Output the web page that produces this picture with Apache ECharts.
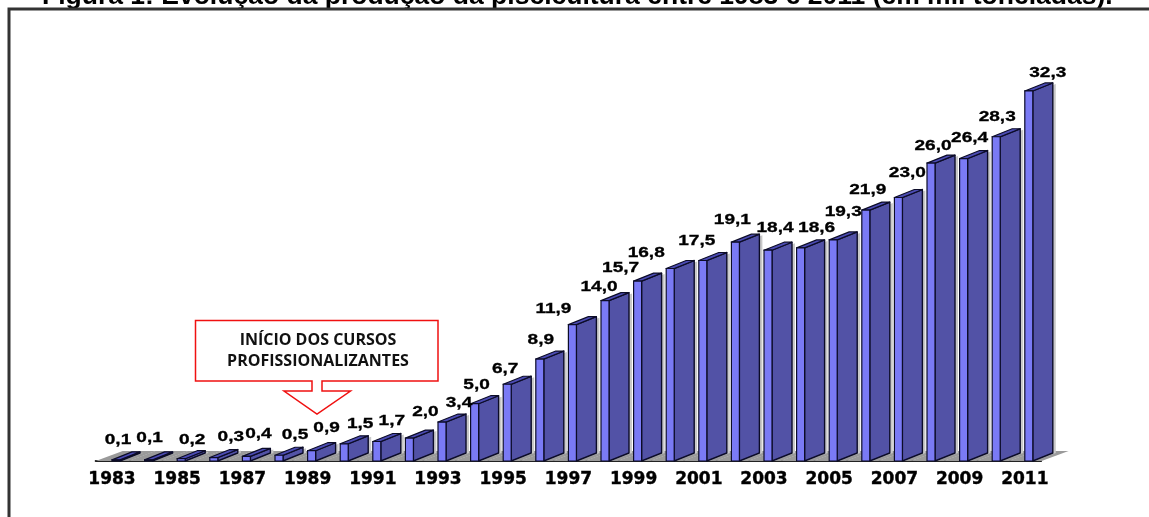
<!DOCTYPE html>
<html lang="pt">
<head>
<meta charset="utf-8">
<title>Evolução da produção da piscicultura</title>
<style>
  html, body { margin: 0; padding: 0; background: #fff; overflow: hidden; }
  #chart { width: 1149px; height: 517px; }
</style>
<script src="https://cdn.jsdelivr.net/npm/echarts@6/dist/echarts.min.js"></script>
</head>
<body>
<div id="chart"></div>
<script>
// Produção anual, em mil toneladas
const years = ['1983','1984','1985','1986','1987','1988','1989','1990','1991','1992',
  '1993','1994','1995','1996','1997','1998','1999','2000','2001','2002',
  '2003','2004','2005','2006','2007','2008','2009','2010','2011'];
const production = [0.1,0.1,0.2,0.3,0.4,0.5,0.9,1.5,1.7,2.0,
  3.4,5.0,6.7,8.9,11.9,14.0,15.7,16.8,17.5,19.1,
  18.4,18.6,19.3,21.9,23.0,26.0,26.4,28.3,32.3];

// Deslocamento manual de cada rótulo em relação ao topo da barra
const labelNudgeX = [6,5,15,21,16,20,19,20,19,20,21,6,2,5,-15,-2,-13,-20,-2,1,11,20,14,6,13,6,10,5,23];
const labelNudgeY = [-20,-22,-19,-20,-22,-20,-23,-20,-20,-26,-19,-19,-15,-19,-16,-13,-13,-15,-19,-22,-22,-20,-28,-20,-24,-17,-20,-20,-18];

const titleText = 'Figura 1: Evolução da produção da piscicultura entre 1983 e 2011 (em mil toneladas).';
const calloutLines = 'INÍCIO DOS CURSOS\nPROFISSIONALIZANTES';

// Geometria da pseudo-perspectiva das colunas
const FRONT_W = 8, SIDE_DX = 20, DEPTH_DY = -8;
const FLOOR_DX = 27, FLOOR_DY = -10;

function renderFloor(params, api) {
  const p = api.coord([api.value(0), 0]);
  const band = api.size([1, 0])[0];
  const l = p[0] - band / 2, r = p[0] + band / 2 + 0.5, y = p[1];
  return {
    type: 'polygon',
    shape: { points: [[l, y], [r, y], [r + FLOOR_DX, y + FLOOR_DY], [l + FLOOR_DX, y + FLOOR_DY]] },
    style: { fill: '#9a9a9a' }
  };
}

function renderColumn(params, api) {
  const base = api.coord([api.value(0), 0]);
  const top = api.coord([api.value(0), api.value(1)]);
  const x0 = base[0], x1 = x0 + FRONT_W, x2 = x1 + SIDE_DX;
  const yb = base[1], yt = top[1];
  const edge = '#0c0c28';
  return {
    type: 'group',
    children: [
      { type: 'polygon',
        shape: { points: [[x1 + 2, yb], [x2 + 3, yb + DEPTH_DY], [x2 + 3, yt + DEPTH_DY + 1], [x1 + 2, yt]] },
        style: { fill: '#c8c8c8' } },
      { type: 'polygon',
        shape: { points: [[x1, yb], [x2, yb + DEPTH_DY], [x2, yt + DEPTH_DY], [x1, yt]] },
        style: { fill: '#5252a6', stroke: edge, lineWidth: 1.4, lineJoin: 'round' } },
      { type: 'polygon',
        shape: { points: [[x0, yt], [x1, yt], [x2, yt + DEPTH_DY], [x2 - FRONT_W, yt + DEPTH_DY]] },
        style: { fill: '#4c4cb4', stroke: edge, lineWidth: 1.2, lineJoin: 'round' } },
      { type: 'rect',
        shape: { x: x0, y: yt, width: FRONT_W, height: yb - yt },
        style: { fill: '#7a7af5', stroke: edge, lineWidth: 1.2 } }
    ]
  };
}

function renderValueLabel(params, api) {
  const i = params.dataIndex;
  const top = api.coord([api.value(0), api.value(1)]);
  return {
    type: 'text',
    x: top[0] + labelNudgeX[i],
    y: top[1] + labelNudgeY[i],
    scaleX: 1.36,
    style: {
      text: api.value(1).toFixed(1).replace('.', ','),
      fontFamily: 'Liberation Sans',
      fontWeight: 'bold',
      fontSize: 14,
      fill: '#000',
      stroke: '#000',
      lineWidth: 0.3,
      align: 'center',
      verticalAlign: 'middle'
    }
  };
}

const seriesData = years.map((y, i) => [i, production[i]]);

const chart = echarts.init(document.getElementById('chart'), null, { renderer: 'canvas' });
chart.setOption({
  animation: false,
  backgroundColor: '#fff',
  title: {
    text: titleText,
    left: 42,
    top: -17,
    padding: 0,
    textStyle: { fontFamily: 'Liberation Sans', fontWeight: 'bold', fontSize: 26.5, color: '#000' }
  },
  grid: { left: 95.7, width: 945.4, top: 60, height: 401 },
  xAxis: {
    type: 'category',
    data: years,
    axisLine: { show: true, lineStyle: { color: '#222', width: 2 } },
    axisTick: { show: false },
    axisLabel: {
      interval: 1,
      margin: 10,
      fontFamily: 'DejaVu Sans',
      fontWeight: 'bold',
      fontSize: 17,
      color: '#000',
      textBorderColor: '#000',
      textBorderWidth: 0.4
    }
  },
  yAxis: { type: 'value', min: 0, max: 35, show: false },
  series: [
    { type: 'custom', name: 'piso', renderItem: renderFloor, data: seriesData, z: 1, silent: true,
      encode: { x: 0, y: 1 } },
    { type: 'custom', name: 'Produção', renderItem: renderColumn, data: seriesData, z: 3,
      encode: { x: 0, y: 1 } },
    { type: 'custom', name: 'rótulos', renderItem: renderValueLabel, data: seriesData, z: 5, silent: true,
      encode: { x: 0, y: 1 } }
  ],
  graphic: [
    { type: 'polyline', z: 10,
      shape: { points: [[9, 517], [9, 9], [1149, 9]] },
      style: { stroke: '#333', lineWidth: 3, fill: null } },
    { type: 'polygon', z: 10,
      shape: { points: [[195.5, 320.5], [438, 320.5], [438, 381], [322, 381], [322, 391], [350.5, 391],
                        [317, 414], [284, 391], [312, 391], [312, 381], [195.5, 381]] },
      style: { fill: '#fff', stroke: '#f01010', lineWidth: 1.5 } },
    { type: 'text', z: 11, x: 318, y: 350.5,
      style: {
        text: calloutLines,
        fontFamily: 'Open Sans',
        fontWeight: 'bold',
        fontSize: 16,
        lineHeight: 21,
        fill: '#111',
        align: 'center',
        verticalAlign: 'middle'
      } }
  ]
});
</script>
</body>
</html>
